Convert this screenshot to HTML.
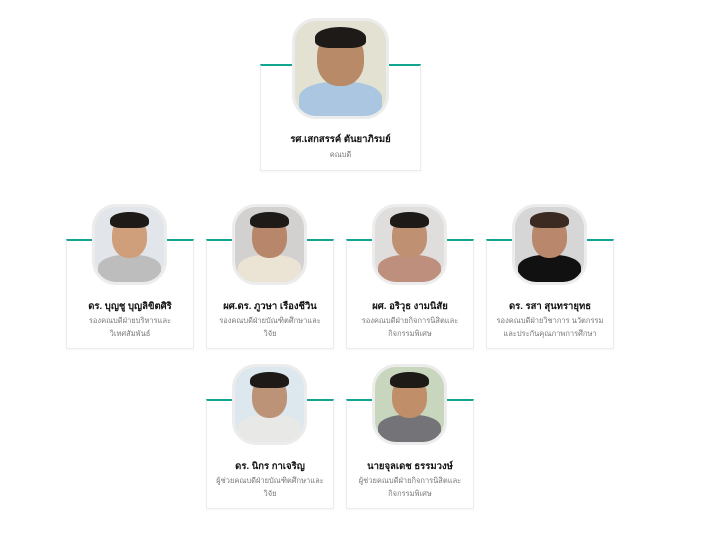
<!DOCTYPE html>
<html><head><meta charset="utf-8"><style>
*{margin:0;padding:0;box-sizing:border-box}
body{width:706px;height:543px;background:#fff;position:relative;overflow:hidden;font-family:"Liberation Sans","DejaVu Sans",sans-serif}
.card{position:absolute;background:#fff;border:1px solid #ececec;border-top:2px solid #12a58f;box-shadow:0 1px 2px rgba(0,0,0,.04)}
.ph{position:absolute;border:3px solid #ececec;border-radius:24px;overflow:hidden;background:#ddd}
.ph .head{position:absolute;left:24%;top:12%;width:52%;height:56%;border-radius:45%;background:#c99a7a}
.ph .hair{position:absolute;left:22%;top:6%;width:56%;height:22%;border-radius:50% 50% 30% 30%;background:#1d1a18}
.ph .body{position:absolute;left:4%;top:64%;width:92%;height:42%;border-radius:40% 40% 0 0}
.name{position:absolute;left:0;right:0;text-align:center;font-size:9.5px;color:#111;font-weight:bold}
.sub{position:absolute;left:0;right:0;text-align:center;font-size:7.5px;color:#777;line-height:13px}
</style></head><body>

<div class="card" style="left:260px;top:64px;width:161px;height:107px">
<div class="name" style="top:66px">รศ.เสกสรรค์ ตันยาภิรมย์</div>
<div class="sub" style="top:82px">คณบดี</div></div>
<div class="ph" style="left:292px;top:18px;width:97px;height:101px;background:#e3e1d2"><div class="body" style="background:#aac6e0"></div><div class="head" style="background:#b98a68"></div><div class="hair"></div></div>

<div class="card" style="left:66px;top:239px;width:128px;height:110px">
<div class="name" style="top:58px">ดร. บุญชู บุญลิขิตศิริ</div>
<div class="sub" style="top:73px">รองคณบดีฝ่ายบริหารและ<br>วิเทศสัมพันธ์</div></div>
<div class="ph" style="left:92px;top:204px;width:75px;height:81px;background:#e2e6ea"><div class="body" style="background:#bdbdbd"></div><div class="head" style="background:#cf9e7a"></div><div class="hair"></div></div>

<div class="card" style="left:206px;top:239px;width:128px;height:110px">
<div class="name" style="top:58px">ผศ.ดร. ภูวษา เรืองชีวิน</div>
<div class="sub" style="top:73px">รองคณบดีฝ่ายบัณฑิตศึกษาและ<br>วิจัย</div></div>
<div class="ph" style="left:232px;top:204px;width:75px;height:81px;background:#d2d1cf"><div class="body" style="background:#ebe4d4"></div><div class="head" style="background:#b8866a"></div><div class="hair"></div></div>

<div class="card" style="left:346px;top:239px;width:128px;height:110px">
<div class="name" style="top:58px">ผศ. อริวุธ งามนิสัย</div>
<div class="sub" style="top:73px">รองคณบดีฝ่ายกิจการนิสิตและ<br>กิจกรรมพิเศษ</div></div>
<div class="ph" style="left:372px;top:204px;width:75px;height:81px;background:#e0dedc"><div class="body" style="background:#bf8f7e"></div><div class="head" style="background:#c09072"></div><div class="hair"></div></div>

<div class="card" style="left:486px;top:239px;width:128px;height:110px">
<div class="name" style="top:58px">ดร. รสา สุนทรายุทธ</div>
<div class="sub" style="top:73px">รองคณบดีฝ่ายวิชาการ นวัตกรรม<br>และประกันคุณภาพการศึกษา</div></div>
<div class="ph" style="left:512px;top:204px;width:75px;height:81px;background:#d6d6d6"><div class="body" style="background:#111"></div><div class="head" style="background:#b9886c"></div><div class="hair" style="background:#3a2a22"></div></div>

<div class="card" style="left:206px;top:399px;width:128px;height:110px">
<div class="name" style="top:58px">ดร. นิกร กาเจริญ</div>
<div class="sub" style="top:73px">ผู้ช่วยคณบดีฝ่ายบัณฑิตศึกษาและ<br>วิจัย</div></div>
<div class="ph" style="left:232px;top:364px;width:75px;height:81px;background:#dde8ee"><div class="body" style="background:#e8e8e6"></div><div class="head" style="background:#bd9378"></div><div class="hair"></div></div>

<div class="card" style="left:346px;top:399px;width:128px;height:110px">
<div class="name" style="top:58px">นายจุลเดช ธรรมวงษ์</div>
<div class="sub" style="top:73px">ผู้ช่วยคณบดีฝ่ายกิจการนิสิตและ<br>กิจกรรมพิเศษ</div></div>
<div class="ph" style="left:372px;top:364px;width:75px;height:81px;background:#c8d6bd"><div class="body" style="background:#747478"></div><div class="head" style="background:#c08e68"></div><div class="hair"></div></div>

</body></html>
